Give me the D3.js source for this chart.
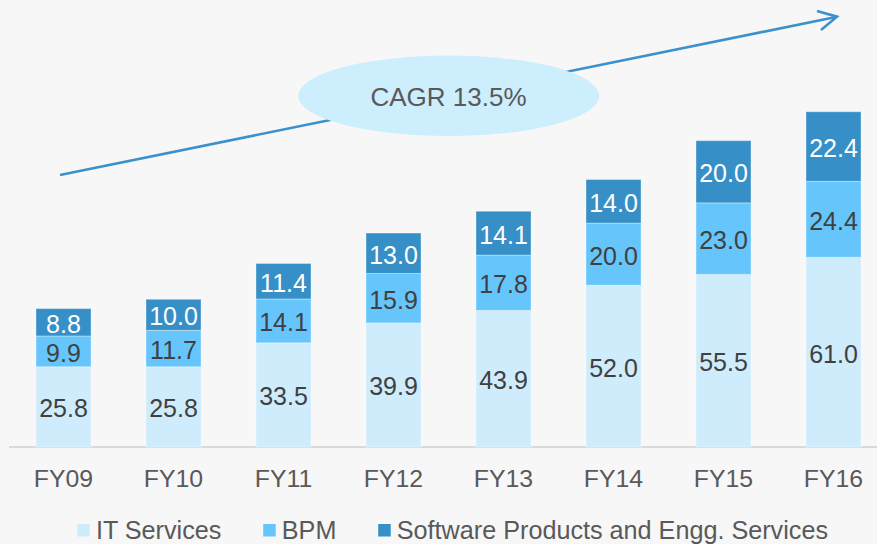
<!DOCTYPE html>
<html><head><meta charset="utf-8">
<script src="https://cdn.jsdelivr.net/npm/d3@7"></script>
<style>html,body{margin:0;padding:0;background:#f7f7f7;}svg{display:block;font-family:"Liberation Sans",Arial,sans-serif;}</style>
</head><body>
<svg id="chart" width="877" height="544"></svg>
<script>
const categories = ["FY09","FY10","FY11","FY12","FY13","FY14","FY15","FY16"];
const itServices = [25.8,25.8,33.5,39.9,43.9,52.0,55.5,61.0];
const bpm = [9.9,11.7,14.1,15.9,17.8,20.0,23.0,24.4];
const software = [8.8,10.0,11.4,13.0,14.1,14.0,20.0,22.4];
const seriesNames = ["IT Services","BPM","Software Products and Engg. Services"];
const cagrLabel = "CAGR 13.5%";

const colors = ["#cfecfd","#66c6fc","#3690c7"];
const labelColors = ["#404040","#404040","#ffffff"];

const svg = d3.select("#chart");
svg.append("rect").attr("width",877).attr("height",544).attr("fill","#f7f7f7");

const x = d3.scaleBand().domain(categories).range([8.5, 888.5]).paddingInner(0.5).paddingOuter(0.25);
const y = d3.scaleLinear().domain([0,120]).range([447, 447-3.11*120]);

const rows = categories.map((c,i)=>({cat:c, "IT Services":itServices[i], "BPM":bpm[i], "Software Products and Engg. Services":software[i]}));
const stack = d3.stack().keys(seriesNames)(rows);

// axis line
svg.append("line").attr("x1",9).attr("x2",877).attr("y1",447).attr("y2",447)
  .attr("stroke","#d9d9d9").attr("stroke-width",2);

stack.forEach((layer,si)=>{
  const g = svg.append("g");
  g.selectAll("rect").data(layer).enter().append("rect")
    .attr("x",d=>x(d.data.cat))
    .attr("width",x.bandwidth())
    .attr("y",d=>y(d[1]))
    .attr("height",d=>y(d[0])-y(d[1]))
    .attr("fill",colors[si])
    .attr("stroke","rgba(255,255,255,0.35)").attr("stroke-width",1);
  g.selectAll("text").data(layer).enter().append("text")
    .attr("x",d=>x(d.data.cat)+x.bandwidth()/2)
    .attr("y",d=>(y(d[0])+y(d[1]))/2)
    .attr("dy","0.42em")
    .attr("text-anchor","middle")
    .attr("font-size",25)
    .attr("fill",labelColors[si])
    .text(d=>(d[1]-d[0]).toFixed(1));
});

// x axis labels
const xAxis = d3.axisBottom(x).tickSize(0).tickPadding(0);
const ax = svg.append("g").attr("transform","translate(0,447)").call(xAxis);
ax.select(".domain").remove();
ax.selectAll("text").attr("font-size",24.8).attr("fill","#595959")
  .attr("font-family","'Liberation Sans',Arial,sans-serif")
  .attr("dy",null).attr("y",39.7);

// CAGR arrow
const arrowColor = "#3a91cb";
svg.append("line").attr("x1",60).attr("y1",175).attr("x2",836).attr("y2",17)
  .attr("stroke",arrowColor).attr("stroke-width",2.6);
svg.append("path").attr("d","M817,11 L837,16.7 L821,30")
  .attr("fill","none").attr("stroke",arrowColor).attr("stroke-width",2.6).attr("stroke-linejoin","miter");
svg.append("ellipse").attr("cx",448.8).attr("cy",95.8).attr("rx",150.5).attr("ry",40.2).attr("fill","#cdeefd");
svg.append("text").attr("x",448.5).attr("y",105.5).attr("text-anchor","middle")
  .attr("font-size",26).attr("fill","#595959").text(cagrLabel);

// legend
const lg = svg.append("g");
let lx = 77.3;
seriesNames.forEach((n,i)=>{
  lg.append("rect").attr("x",lx).attr("y",524).attr("width",12.5).attr("height",12.5).attr("fill",colors[i]);
  const t = lg.append("text").attr("x",lx+18.6).attr("y",538.5).attr("font-size",25.2).attr("fill","#595959").text(n);
  lx += 18.6 + t.node().getComputedTextLength() + 41.8;
});
</script>
</body></html>
